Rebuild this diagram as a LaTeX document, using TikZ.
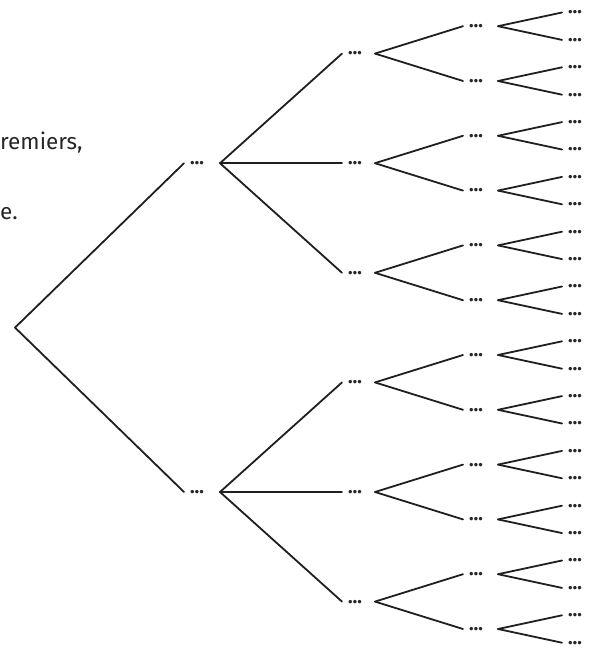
\documentclass[tikz,border=0pt]{standalone}
\usepackage{fontspec}
\setmainfont{Fira Sans}
\begin{document}
\begin{tikzpicture}[x=1pt,y=-1pt,
  branch/.style={line width=1.8pt, draw=black!88, line cap=round},
  dots/.style={anchor=west, inner xsep=6pt, inner ysep=0pt,
    font=\fontsize{19}{19}\selectfont\bfseries, text=black!85},
  prose/.style={anchor=base west, inner sep=0pt,
    font=\fontsize{22.5}{26}\selectfont, text=black!85}]
\useasboundingbox (0,0) rectangle (593,652);

% leaves (24)
\foreach \i in {0,...,23} {
  \pgfmathsetmacro\yy{12.5+27.4*\i}
  \node[dots] (l-\i) at (562,\yy) {…};
}
% third level (12)
\foreach \j in {0,...,11} {
  \pgfmathsetmacro\yy{12.5+27.4*(2*\j+0.5)}
  \node[dots] (c-\j) at (463,\yy) {…};
  \coordinate (vc-\j) at (498,\yy);
}
% second level (6)
\foreach \k in {0,...,5} {
  \pgfmathsetmacro\yy{12.5+27.4*(4*\k+1.5)}
  \node[dots] (b-\k) at (342,\yy) {…};
  \coordinate (vb-\k) at (375,\yy);
}
% first level (2)
\foreach \m in {0,1} {
  \pgfmathsetmacro\yy{12.5+27.4*(12*\m+5.5)}
  \node[dots] (a-\m) at (184,\yy) {…};
  \coordinate (va-\m) at (220,\yy);
}
% root
\coordinate (r) at (15,{12.5+27.4*11.5});

% branches
\foreach \m in {0,1} {
  \draw[branch] (r) -- (a-\m.west);
  \foreach \t in {0,1,2} {
    \pgfmathtruncatemacro\kk{3*\m+\t}
    \draw[branch] (va-\m) -- (b-\kk.west);
  }
}
\foreach \k in {0,...,5} {
  \foreach \t in {0,1} {
    \pgfmathtruncatemacro\jj{2*\k+\t}
    \draw[branch] (vb-\k) -- (c-\jj.west);
  }
}
\foreach \j in {0,...,11} {
  \foreach \t in {0,1} {
    \pgfmathtruncatemacro\ii{2*\j+\t}
    \draw[branch] (vc-\j) -- (l-\ii.west);
  }
}

% text on the left
\node[prose] (t1) at (0,150) {remiers,};
\node[prose] (t2) at (0,219) {e.};
\end{tikzpicture}
\end{document}
